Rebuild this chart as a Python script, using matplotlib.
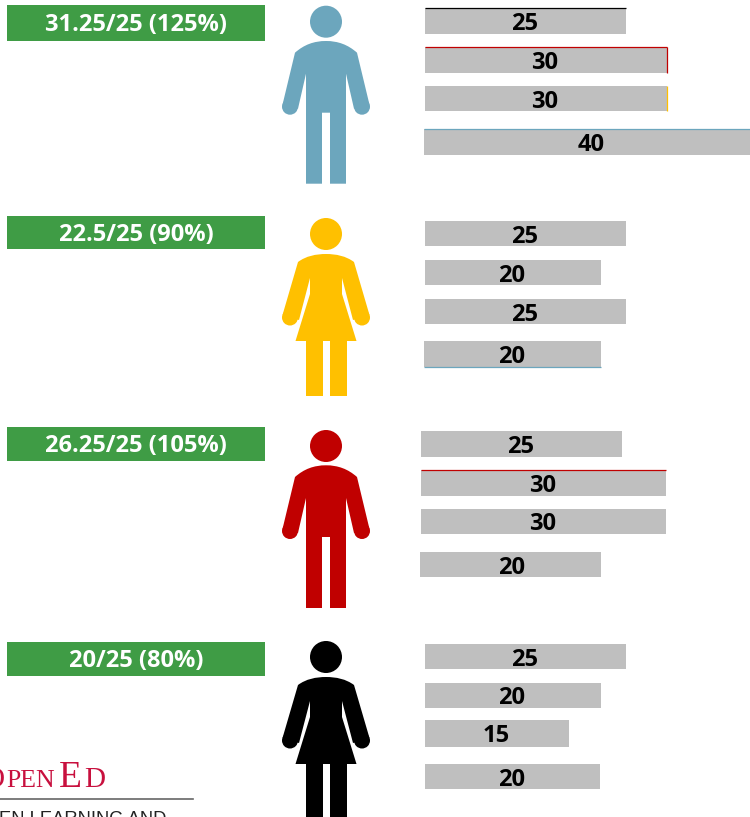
from matplotlib import pyplot as plt
from matplotlib.patches import Circle, Polygon, Rectangle, PathPatch
from matplotlib.path import Path

# one entry per person, top to bottom
score_labels = ["31.25/25 (125%)", "22.5/25 (90%)", "26.25/25 (105%)", "20/25 (80%)"]
person_types = ["man", "woman", "man", "woman"]
person_colors = ["#6CA6BD", "#FFC000", "#C00000", "#000000"]

# bar text as printed, bar lengths as drawn in the picture (the lengths are not proportional to the text)
bar_labels = [
    ["25", "30", "30", "40"],
    ["25", "20", "25", "20"],
    ["25", "30", "30", "20"],
    ["25", "20", "15", "20"],
]
bar_lengths = [
    [201, 242, 242, 326],
    [201, 176, 201, 177],
    [201, 245, 245, 181],
    [201, 176, 144, 175],
]

# layout, in pixels of the 750x817 image
BOX_Y = [(5, 41), (216, 249), (427, 461), (642, 676)]
HEAD_Y = [21.7, 234, 446, 657]
BAR_LEFT = [[425, 425, 425, 424], [425, 425, 425, 424], [421, 421, 421, 420], [425, 425, 425, 425]]
BAR_Y = [
    [(8, 34), (47, 73), (86, 111), (129, 155)],
    [(221, 246), (260, 285), (299, 324), (341, 367)],
    [(431, 457), (470, 496), (509, 534), (552, 577)],
    [(644, 669), (683, 708), (720, 747), (764, 789)],
]
LABEL_SHIFT = [[0, 0, 0, 5], [0, 0, 0, 0], [0, 0, 0, 2], [0, 0, 0, 0]]
# (group, bar, side, color) thin coloured edges left on some bars
BAR_EDGES = [
    (0, 0, "top", "#000000"),
    (0, 1, "top", "#C00000"),
    (0, 1, "right", "#C00000"),
    (0, 2, "right", "#FFC000"),
    (0, 3, "top", "#6CA6BD"),
    (1, 3, "bottom", "#6CA6BD"),
    (2, 1, "top", "#C00000"),
]

GREEN = "#3F9C45"
GREY = "#BFBFBF"
FONT = "Open Sans"

fig = plt.figure(figsize=(7.5, 8.17), dpi=100)
ax = fig.add_axes([0, 0, 1, 1])
ax.set_xlim(0, 750)
ax.set_ylim(817, 0)
ax.axis("off")


def add_shape(cx, cy, verts, codes, color):
    pts = [(cx + x, cy + y) for x, y in verts]
    ax.add_patch(PathPatch(Path(pts, codes), fc=color, ec="none", lw=0))


def draw_man(cx, cy, color):
    # outline is relative to the head centre
    verts = [(-31, 31), (-22, 23), (-12, 19.3), (0, 19.3), (12, 19.3), (22, 23), (31, 31),
             (43.5, 83), (28, 87), (20, 52),
             (20, 162), (4, 162), (4, 91), (-4, 91), (-4, 162), (-20, 162), (-20, 52),
             (-28, 87), (-43.5, 83), (-31, 31)]
    codes = [Path.MOVETO] + [Path.CURVE4] * 6 + [Path.LINETO] * 12 + [Path.CLOSEPOLY]
    add_shape(cx, cy, verts, codes, color)
    ax.add_patch(Circle((cx, cy), 16, fc=color, ec="none"))
    ax.add_patch(Circle((cx - 36, cy + 85), 8, fc=color, ec="none"))
    ax.add_patch(Circle((cx + 36, cy + 85), 8, fc=color, ec="none"))


def draw_woman(cx, cy, color):
    # arms and shoulders, then the dress and legs on top
    verts = [(-28, 28), (-20, 22), (-10, 20), (0, 20), (10, 20), (20, 22), (28, 28),
             (43.5, 81), (27, 86), (16, 44), (-16, 44), (-27, 86), (-43.5, 81), (-28, 28)]
    codes = [Path.MOVETO] + [Path.CURVE4] * 6 + [Path.LINETO] * 6 + [Path.CLOSEPOLY]
    add_shape(cx, cy, verts, codes, color)
    dress = [(-16, 40), (16, 40), (16, 60), (30.5, 107), (-30.5, 107), (-16, 60)]
    ax.add_patch(Polygon([(cx + x, cy + y) for x, y in dress], fc=color, ec="none"))
    ax.add_patch(Rectangle((cx - 20, cy + 106), 16.5, 56, fc=color, ec="none"))
    ax.add_patch(Rectangle((cx + 4, cy + 106), 16.5, 56, fc=color, ec="none"))
    ax.add_patch(Circle((cx, cy), 16, fc=color, ec="none"))
    ax.add_patch(Circle((cx - 36, cy + 83.5), 8, fc=color, ec="none"))
    ax.add_patch(Circle((cx + 36, cy + 83.5), 8, fc=color, ec="none"))


for i in range(len(score_labels)):
    top, bottom = BOX_Y[i]
    ax.barh((top + bottom) / 2, 258, height=bottom - top, left=7, color=GREEN)
    ax.text(136, (top + bottom) / 2 + 2, score_labels[i], color="white", fontsize=17, fontweight="bold",
            family=FONT, ha="center", va="center")

    if person_types[i] == "man":
        draw_man(326, HEAD_Y[i], person_colors[i])
    else:
        draw_woman(326, HEAD_Y[i], person_colors[i])

    for j in range(len(bar_lengths[i])):
        y0, y1 = BAR_Y[i][j]
        left = BAR_LEFT[i][j]
        ax.barh((y0 + y1) / 2, bar_lengths[i][j], height=y1 - y0, left=left, color=GREY)
        ax.text(left + bar_lengths[i][j] / 2 + LABEL_SHIFT[i][j] - 1, (y0 + y1) / 2 + 3, bar_labels[i][j],
                color="black", fontsize=17, fontweight="bold", family=FONT, ha="center", va="center")

for i, j, side, color in BAR_EDGES:
    y0, y1 = BAR_Y[i][j]
    left = BAR_LEFT[i][j]
    right = left + bar_lengths[i][j]
    if side == "top":
        ax.plot([left, right], [y0 - 0.5, y0 - 0.5], color=color, lw=0.9, solid_capstyle="butt")
    elif side == "bottom":
        ax.plot([left, right], [y1 - 0.5, y1 - 0.5], color=color, lw=0.9, solid_capstyle="butt")
    else:
        ax.plot([right - 0.5, right - 0.5], [y0, y1], color=color, lw=0.9, solid_capstyle="butt")

# logo in the bottom left corner, cut off by the image edge
CRIMSON = "#C8103E"
for x, txt, size in [(-16, "O", 21), (6, "PEN", 18.5), (59, "E", 27), (84, "D", 21)]:
    ax.text(x, 787, txt, color=CRIMSON, fontsize=size, family="Liberation Serif",
            ha="left", va="baseline")
ax.plot([0, 193], [799, 799], color="#666666", lw=1.2)
ax.text(-1, 824, "EN LEARNING AND", color="#222222", fontsize=13.2, family="Liberation Sans",
        ha="left", va="baseline")

fig.savefig("out.png", dpi=100)
